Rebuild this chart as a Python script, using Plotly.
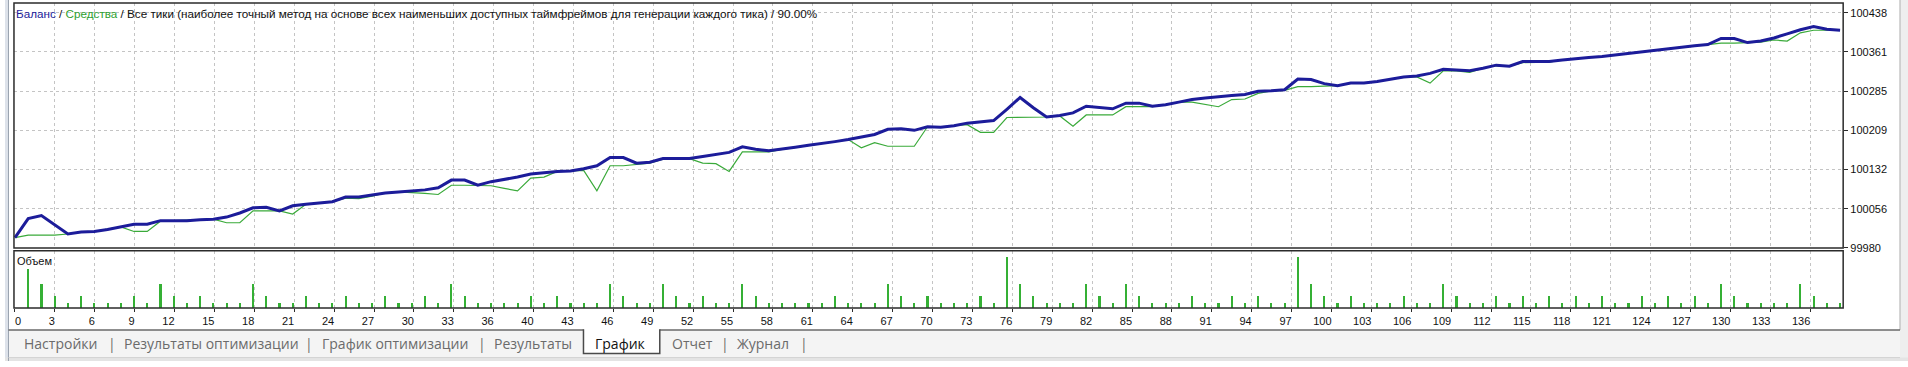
import plotly.graph_objects as go

# ---------------- data ----------------
trade_index = list(range(139))

balance = [
    100000, 100037, 100043, 100025, 100007, 100011, 100012, 100016, 100021, 100026,
    100026, 100033, 100033, 100033, 100035, 100036, 100040, 100048, 100058, 100059,
    100052, 100062, 100065, 100067, 100070, 100079, 100079, 100083, 100087, 100089,
    100091, 100093, 100097, 100112, 100112, 100102, 100109, 100113, 100118, 100124,
    100127, 100129, 100130, 100134, 100140, 100156, 100156, 100145, 100147, 100154,
    100154, 100154, 100158, 100162, 100166, 100177, 100172, 100169, 100172, 100176,
    100180, 100183, 100187, 100191, 100196, 100201, 100211, 100212, 100209, 100216,
    100215, 100218, 100223, 100225, 100228, 100250, 100273, 100253, 100235, 100238,
    100243, 100256, 100253, 100251, 100262, 100262, 100256, 100259, 100264, 100269,
    100272, 100275, 100277, 100279, 100285, 100286, 100288, 100309, 100308, 100300,
    100296, 100301, 100301, 100304, 100309, 100313, 100315, 100320, 100328, 100327,
    100325, 100330, 100336, 100334, 100343, 100343, 100343, 100346, 100349, 100351,
    100353, 100356, 100360, 100363, 100366, 100368, 100371, 100374, 100376, 100388,
    100388, 100380, 100383, 100389, 100397, 100405, 100411, 100406, 100404,
]

equity = [
    100000, 100005, 100005, 100005, 100007, 100011, 100012, 100016, 100021, 100012,
    100012, 100032, 100033, 100033, 100035, 100036, 100029, 100029, 100052, 100052,
    100052, 100046, 100065, 100067, 100070, 100077, 100076, 100081, 100087, 100089,
    100088, 100086, 100084, 100102, 100102, 100102, 100101, 100096, 100091, 100116,
    100118, 100129, 100130, 100131, 100091, 100140, 100140, 100142, 100145, 100153,
    100154, 100154, 100145, 100144, 100129, 100167, 100167, 100167, 100172, 100176,
    100180, 100183, 100187, 100191, 100175, 100185, 100178, 100178, 100178, 100216,
    100215, 100218, 100220, 100205, 100205, 100234, 100234, 100234, 100235, 100237,
    100217, 100239, 100239, 100239, 100255, 100255, 100255, 100259, 100264, 100264,
    100260, 100255, 100269, 100270, 100281, 100286, 100287, 100294, 100294, 100295,
    100296, 100301, 100301, 100304, 100309, 100313, 100313, 100301, 100325, 100325,
    100322, 100330, 100335, 100334, 100341, 100342, 100342, 100346, 100349, 100351,
    100353, 100356, 100360, 100363, 100366, 100368, 100371, 100374, 100376, 100379,
    100379, 100380, 100381, 100385, 100383, 100399, 100404, 100404, 100404,
]

volume_index = list(range(1, 139))
volume_lots = [
    0.16, 0.10, 0.05, 0.02, 0.05, 0.02, 0.02, 0.02, 0.05, 0.02,
    0.10, 0.05, 0.02, 0.05, 0.02, 0.02, 0.02, 0.10, 0.05, 0.02,
    0.02, 0.05, 0.02, 0.02, 0.05, 0.02, 0.02, 0.05, 0.02, 0.02,
    0.05, 0.02, 0.10, 0.05, 0.02, 0.02, 0.02, 0.02, 0.05, 0.02,
    0.05, 0.02, 0.02, 0.02, 0.10, 0.05, 0.02, 0.02, 0.10, 0.05,
    0.02, 0.05, 0.02, 0.02, 0.10, 0.05, 0.02, 0.02, 0.02, 0.02,
    0.02, 0.05, 0.02, 0.02, 0.02, 0.10, 0.05, 0.02, 0.05, 0.02,
    0.02, 0.02, 0.05, 0.02, 0.21, 0.10, 0.05, 0.02, 0.02, 0.02,
    0.10, 0.05, 0.02, 0.10, 0.05, 0.02, 0.02, 0.02, 0.05, 0.02,
    0.02, 0.05, 0.02, 0.05, 0.02, 0.02, 0.21, 0.10, 0.05, 0.02,
    0.05, 0.02, 0.02, 0.02, 0.05, 0.02, 0.02, 0.10, 0.05, 0.02,
    0.02, 0.05, 0.02, 0.05, 0.02, 0.05, 0.02, 0.05, 0.02, 0.05,
    0.02, 0.02, 0.05, 0.02, 0.05, 0.02, 0.05, 0.02, 0.10, 0.05,
    0.02, 0.02, 0.02, 0.02, 0.10, 0.05, 0.02, 0.02,
]

y_tick_values = [99980, 100056.33, 100132.67, 100209, 100285.33, 100361.67, 100438]
y_tick_labels = ["99980", "100056", "100132", "100209", "100285", "100361", "100438"]

x_tick_labels = ["0", "3", "6", "9", "12", "15", "18", "21", "24", "27", "30", "33", "36",
                 "40", "43", "46", "49", "52", "55", "58", "61", "64", "67", "70", "73",
                 "76", "79", "82", "85", "88", "91", "94", "97", "100", "103", "106",
                 "109", "112", "115", "118", "121", "124", "127", "130", "133", "136"]

header_parts = ["Баланс", "Средства",
                "Все тики (наиболее точный метод на основе всех наименьших доступных "
                "таймфреймов для генерации каждого тика)", "90.00%"]
volume_title = "Объем"
tabs = ["Настройки", "Результаты оптимизации", "График оптимизации", "Результаты",
        "График", "Отчет", "Журнал"]
active_tab = "График"

# ---------------- geometry ----------------
W, H = 1908, 367
PX_PER_TRADE = 13.26
LEFT, RIGHT = 9, 1843
MAIN_TOP, MAIN_BOT = 3, 252
VOL_TOP, VOL_BOT = 255, 313
TAB_LINE, TAB_BOTTOM, STRIP_BOTTOM = 335.5, 359.5, 363.5
TAB_TEXT_Y = 349


def fx(px):
    return px / W


def fy(py):
    return 1 - py / H


x_range = [(LEFT - 10) / PX_PER_TRADE, (RIGHT - 10) / PX_PER_TRADE]
tick_step = 40 / PX_PER_TRADE
x_tick_pos = [k * tick_step for k in range(len(x_tick_labels))]
NB = "\u00a0"
x_tick_text = []
for i, lab in enumerate(x_tick_labels):
    if i == 0:
        x_tick_text.append(NB * 2 + lab)
    else:
        x_tick_text.append(lab + NB * (2 * len(lab)))

units_per_px = (y_tick_values[-1] - y_tick_values[0]) / 239.0
y_range = [99980, 99980 + (MAIN_BOT - MAIN_TOP) * units_per_px]

BLUE = "#1c1c9a"
GREEN = "#3aaa3a"
GRID = "#c4c4c4"
FRAME = "#2b2b2b"
FONT = "Liberation Sans"

fig = go.Figure()
fig.add_trace(go.Bar(x=volume_index, y=volume_lots, xaxis="x2", yaxis="y2", width=0.16,
                     marker=dict(color="#35b035", line=dict(width=0)), showlegend=False,
                     name="Объем"))
fig.add_trace(go.Scatter(x=trade_index, y=equity, mode="lines", name="Средства",
                         line=dict(color=GREEN, width=1.2), showlegend=False))
fig.add_trace(go.Scatter(x=trade_index, y=balance, mode="lines", name="Баланс",
                         line=dict(color=BLUE, width=3), showlegend=False))

common_x = dict(range=x_range, tickvals=x_tick_pos, showgrid=True, gridcolor=GRID,
                griddash="3px,3px", gridwidth=1, zeroline=False, showline=False,
                domain=[fx(LEFT), fx(RIGHT)], fixedrange=True)

fig.update_layout(
    width=W, height=H,
    margin=dict(l=0, r=0, t=0, b=0),
    paper_bgcolor="white", plot_bgcolor="white",
    bargap=0,
    xaxis=dict(**common_x, anchor="y", showticklabels=False, ticks=""),
    yaxis=dict(domain=[fy(MAIN_BOT), fy(MAIN_TOP)], range=y_range, side="right",
               tickvals=y_tick_values, ticktext=y_tick_labels, ticks="outside",
               ticklen=4, tickcolor=FRAME, showgrid=True, gridcolor=GRID,
               griddash="3px,3px", zeroline=False, showline=False, fixedrange=True,
               tickfont=dict(family=FONT, size=11, color="#111")),
    xaxis2=dict(**common_x, anchor="y2", ticktext=x_tick_text, ticks="outside",
                ticklen=3, tickcolor=FRAME, tickangle=0,
                tickfont=dict(family=FONT, size=11, color="#111")),
    yaxis2=dict(domain=[fy(VOL_BOT), fy(VOL_TOP)], range=[0, 0.234], showgrid=False,
                showticklabels=False, zeroline=False, showline=False, fixedrange=True),
    font=dict(family=FONT),
)

shapes = []
# window strips
shapes.append(dict(type="rect", xref="paper", yref="paper", x0=0, x1=fx(3), y0=0, y1=1,
                   fillcolor="#dde2ea", line=dict(width=0), layer="below"))
shapes.append(dict(type="line", xref="paper", yref="paper", x0=fx(3.5), x1=fx(3.5), y0=0, y1=1,
                   line=dict(color="#9aa3b0", width=1)))
shapes.append(dict(type="rect", xref="paper", yref="paper", x0=fx(1900), x1=1, y0=0, y1=1,
                   fillcolor="#eeeeee", line=dict(width=0), layer="below"))
shapes.append(dict(type="line", xref="paper", yref="paper", x0=fx(1900), x1=fx(1900),
                   y0=fy(TAB_LINE), y1=1, line=dict(color="#c6c6c6", width=1.5)))
# tab strip
shapes.append(dict(type="rect", xref="paper", yref="paper", x0=fx(3.5), x1=fx(1900),
                   y0=fy(STRIP_BOTTOM), y1=fy(TAB_LINE), fillcolor="#f4f4f4",
                   line=dict(width=0), layer="below"))
shapes.append(dict(type="rect", xref="paper", yref="paper", x0=0, x1=1,
                   y0=0, y1=fy(STRIP_BOTTOM), fillcolor="#e4e4e4", line=dict(width=0),
                   layer="below"))
shapes.append(dict(type="line", xref="paper", yref="paper", x0=fx(3.5), x1=fx(1900),
                   y0=fy(STRIP_BOTTOM), y1=fy(STRIP_BOTTOM), line=dict(color="#d2d2d2", width=1)))
shapes.append(dict(type="line", xref="paper", yref="paper", x0=fx(3.5), x1=fx(1900),
                   y0=fy(TAB_LINE), y1=fy(TAB_LINE), line=dict(color="#6a6a6a", width=1.5)))
# active tab
shapes.append(dict(type="rect", xref="paper", yref="paper", x0=fx(580), x1=fx(656.5),
                   y0=fy(TAB_BOTTOM), y1=fy(TAB_LINE - 1), fillcolor="white", line=dict(width=0)))
shapes.append(dict(type="path", xref="paper", yref="paper",
                   path=(f"M {fx(580)},{fy(TAB_LINE - 0.7)} L {fx(580)},{fy(TAB_BOTTOM)} "
                         f"L {fx(656.5)},{fy(TAB_BOTTOM)} L {fx(656.5)},{fy(TAB_LINE - 0.7)}"),
                   line=dict(color="#4a4a4a", width=1.5)))
# chart frames
for top, bot in ((MAIN_TOP, MAIN_BOT), (VOL_TOP, VOL_BOT)):
    shapes.append(dict(type="rect", xref="paper", yref="paper", x0=fx(LEFT), x1=fx(RIGHT),
                       y0=fy(bot), y1=fy(top), line=dict(color=FRAME, width=1.5),
                       fillcolor="rgba(0,0,0,0)"))
fig.update_layout(shapes=shapes)

annotations = []
header = (f'<span style="color:{BLUE}">{header_parts[0]}</span> / '
          f'<span style="color:#2ea02e">{header_parts[1]}</span> / '
          f'{header_parts[2]} / {header_parts[3]}')
annotations.append(dict(xref="paper", yref="paper", x=fx(9), y=fy(14), text=header,
                        showarrow=False, xanchor="left", yanchor="middle",
                        font=dict(family=FONT, size=11.7, color="#111")))
annotations.append(dict(xref="paper", yref="paper", x=fx(10), y=fy(265.5), text=volume_title,
                        showarrow=False, xanchor="left", yanchor="middle",
                        font=dict(family=FONT, size=11, color="#111")))

tab_left = [17.5, 117, 316, 488, 590, 667, 732]
sep_x = [107, 305, 478, 722, 801]
for name, xl in zip(tabs, tab_left):
    annotations.append(dict(xref="paper", yref="paper", x=fx(xl), y=fy(TAB_TEXT_Y), text=name,
                            showarrow=False, xanchor="left", yanchor="middle",
                            font=dict(family="Open Sans", size=14,
                                      color="#111" if name == active_tab else "#6b6b6b")))
for sx in sep_x:
    annotations.append(dict(xref="paper", yref="paper", x=fx(sx), y=fy(TAB_TEXT_Y), text="|",
                            showarrow=False, xanchor="center", yanchor="middle",
                            font=dict(family="Open Sans", size=14, color="#6b6b6b")))
fig.update_layout(annotations=annotations)

fig.write_html("out.html")
